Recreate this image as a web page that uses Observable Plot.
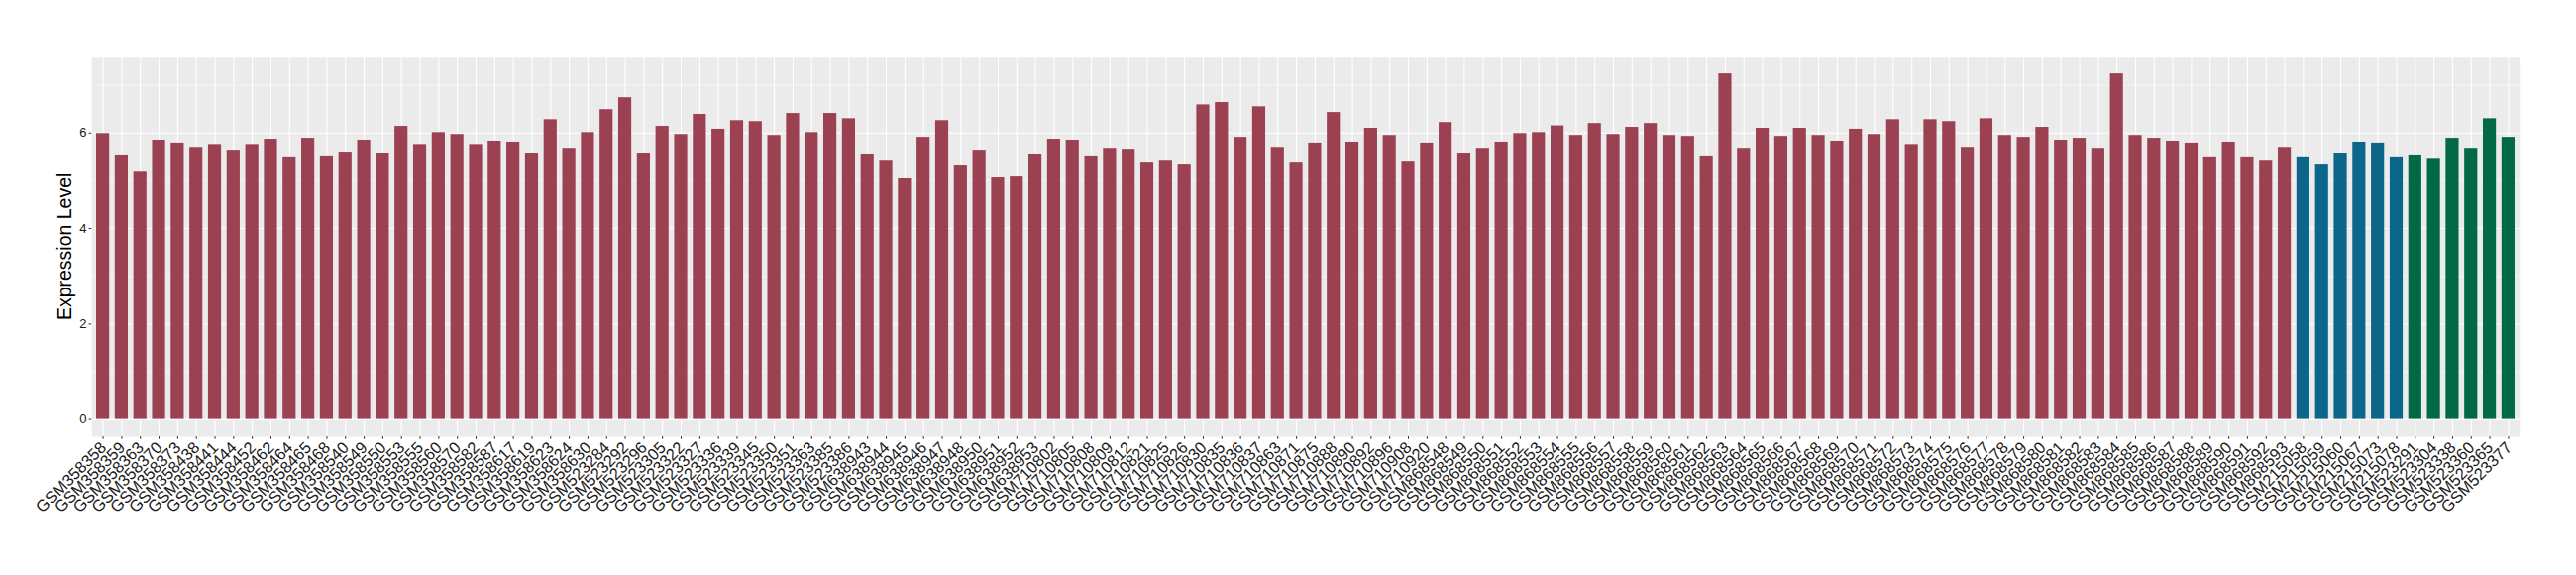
<!DOCTYPE html>
<html>
<head>
<meta charset="utf-8">
<script src="https://cdn.jsdelivr.net/npm/d3@7"></script>
<script src="https://cdn.jsdelivr.net/npm/@observablehq/plot@0.6"></script>
<style>
  html, body { margin: 0; padding: 0; background: white; }
</style>
</head>
<body>
<div id="chart"></div>
<script>
const redSamples = [
  "GSM358358","GSM358359","GSM358363","GSM358370","GSM358373","GSM358438","GSM358441","GSM358444","GSM358452","GSM358462",
  "GSM358464","GSM358465","GSM358468","GSM358540","GSM358549","GSM358550","GSM358553","GSM358555","GSM358560","GSM358570",
  "GSM358582","GSM358587","GSM358617","GSM358619","GSM358623","GSM358624","GSM358630",
  "GSM523284","GSM523292","GSM523296","GSM523305","GSM523322","GSM523327","GSM523336","GSM523339","GSM523345","GSM523350",
  "GSM523351","GSM523363","GSM523385","GSM523386",
  "GSM638943","GSM638944","GSM638945","GSM638946","GSM638947","GSM638948","GSM638950","GSM638951","GSM638952","GSM638953",
  "GSM710802","GSM710805","GSM710808","GSM710809","GSM710812","GSM710821","GSM710825","GSM710826","GSM710830","GSM710835",
  "GSM710836","GSM710837","GSM710863","GSM710871","GSM710875","GSM710888","GSM710890","GSM710892","GSM710896","GSM710908",
  "GSM710920",
  "GSM868548","GSM868549","GSM868550","GSM868551","GSM868552","GSM868553","GSM868554","GSM868555","GSM868556","GSM868557",
  "GSM868558","GSM868559","GSM868560","GSM868561","GSM868562","GSM868563","GSM868564","GSM868565","GSM868566","GSM868567",
  "GSM868568","GSM868569","GSM868570","GSM868571","GSM868572","GSM868573","GSM868574","GSM868575","GSM868576","GSM868577",
  "GSM868578","GSM868579","GSM868580","GSM868581","GSM868582","GSM868583","GSM868584","GSM868585","GSM868586","GSM868587",
  "GSM868588","GSM868589","GSM868590","GSM868591","GSM868592","GSM868593"
];
const redValues = [
  5.99,5.54,5.20,5.85,5.79,5.70,5.76,5.64,5.76,5.87,
  5.50,5.89,5.52,5.60,5.85,5.58,6.14,5.76,6.01,5.97,
  5.76,5.83,5.81,5.58,6.28,5.68,6.01,
  6.49,6.74,5.58,6.14,5.97,6.39,6.08,6.26,6.24,5.95,
  6.41,6.01,6.41,6.30,
  5.56,5.43,5.04,5.91,6.26,5.33,5.64,5.06,5.08,5.56,
  5.87,5.85,5.52,5.68,5.66,5.39,5.43,5.35,6.59,6.64,
  5.91,6.55,5.70,5.39,5.79,6.43,5.81,6.10,5.95,5.41,
  5.79,
  6.22,5.58,5.68,5.81,5.99,6.01,6.15,5.95,6.20,5.97,
  6.12,6.20,5.95,5.93,5.52,7.24,5.68,6.10,5.93,6.10,
  5.95,5.83,6.08,5.97,6.28,5.76,6.28,6.24,5.70,6.30,
  5.95,5.91,6.12,5.85,5.89,5.68,7.24,5.95,5.89,5.83,
  5.79,5.50,5.81,5.50,5.43,5.70
];
const blueSamples = ["GSM215058","GSM215059","GSM215060","GSM215067","GSM215073","GSM215078"];
const blueValues  = [5.50,5.35,5.58,5.81,5.79,5.50];
const greenSamples = ["GSM523291","GSM523304","GSM523338","GSM523360","GSM523365","GSM523377"];
const greenValues  = [5.54,5.47,5.89,5.68,6.30,5.91];
const groupNames = ["A","B","C"];
const groupColors = ["#9B4151","#0B6689","#036945"];
const yTicks = [0,2,4,6];
const yMinor = [1,3,5,7];
const yTitle = "Expression Level";

const data = [
  ...redSamples.map((s,i) => ({sample: s, value: redValues[i], group: groupNames[0]})),
  ...blueSamples.map((s,i) => ({sample: s, value: blueValues[i], group: groupNames[1]})),
  ...greenSamples.map((s,i) => ({sample: s, value: greenValues[i], group: groupNames[2]}))
];
const categories = data.map(d => d.sample);
const maxV = d3.max(data, d => d.value);

const chart = Plot.plot({
  width: 2600,
  height: 580,
  marginLeft: 92.3,
  marginRight: 57.3,
  marginTop: 56.7,
  marginBottom: 140,
  style: {fontFamily: "'Liberation Sans', Arial, sans-serif", background: "white", color: "#1a1a1a"},
  x: {type: "band", domain: categories, paddingInner: 0.3, paddingOuter: 0.25, align: 0.5},
  y: {domain: [-0.05 * maxV, 1.05 * maxV]},
  color: {domain: groupNames, range: groupColors},
  marks: [
    Plot.frame({fill: "#EBEBEB", stroke: null}),
    Plot.gridY({ticks: yMinor, stroke: "white", strokeOpacity: 1, strokeWidth: 0.55}),
    Plot.gridY({ticks: yTicks, stroke: "white", strokeOpacity: 1, strokeWidth: 1.1}),
    Plot.gridX({stroke: "white", strokeOpacity: 1, strokeWidth: 1.1}),
    Plot.barY(data, {x: "sample", y: "value", fill: "group"}),
    Plot.axisY({ticks: yTicks, tickSize: 2.75, tickPadding: 2.5, fontSize: 13, label: null}),
    Plot.axisX({tickRotate: -45, tickSize: 2.75, tickPadding: 2, fontSize: 16.5, label: null}),
    Plot.text([yTitle], {frameAnchor: "left", dx: -27, rotate: -90, textAnchor: "middle", lineAnchor: "middle", fontSize: 19.5, fill: "black", ariaLabel: "y-title"})
  ]
});
const svg = d3.select(chart);
svg.selectAll('g[aria-label="y-axis tick label"]').attr("fill", "#1a1a1a").selectAll("text").style("font-size", "13px");
const xl = svg.select('g[aria-label="x-axis tick label"]');
xl.attr("fill", "#1a1a1a").selectAll("text").style("font-size", "16.5px");
xl.attr("transform", (xl.attr("transform") || "") + " translate(0.5,3.5)");
svg.selectAll('g[aria-label="y-title"] text').style("font-size", "19.5px");
svg.selectAll('g[aria-label$="-axis tick"]').attr("stroke", "#333333");
document.getElementById("chart").appendChild(chart);
</script>
</body>
</html>
